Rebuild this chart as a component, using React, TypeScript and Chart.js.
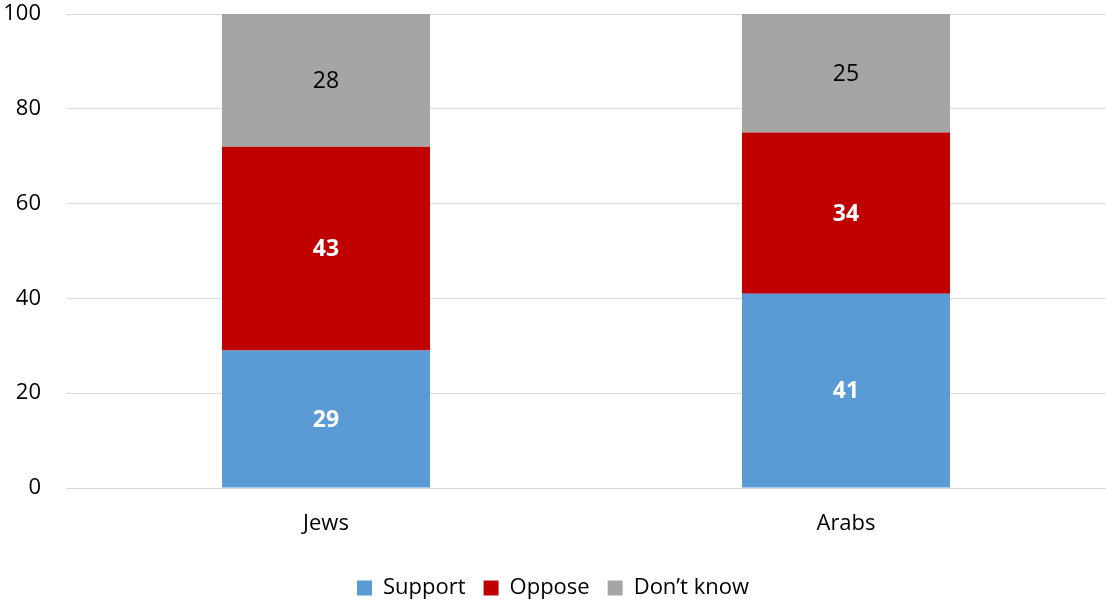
import React, { useEffect, useRef } from "react";
import { Chart, registerables } from "chart.js";

Chart.register(...registerables);

const categories = ["Jews", "Arabs"];
const supportValues = [29, 41];
const opposeValues = [43, 34];
const dontKnowValues = [28, 25];
const yTicks = [0, 20, 40, 60, 80, 100];

const FONT = "'Open Sans', sans-serif";

const labelPlugin = {
  id: "barLabels",
  afterDatasetsDraw(chart: any) {
    const ctx = chart.ctx;
    chart.data.datasets.forEach((ds: any, i: number) => {
      const meta = chart.getDatasetMeta(i);
      meta.data.forEach((bar: any, j: number) => {
        const v = ds.data[j];
        const y = (bar.y + bar.base) / 2;
        ctx.save();
        ctx.textAlign = "center";
        ctx.textBaseline = "middle";
        if (i < 2) {
          ctx.fillStyle = "#ffffff";
          ctx.font = `bold 23px ${FONT}`;
        } else {
          ctx.fillStyle = "#000000";
          ctx.font = `23px ${FONT}`;
        }
        ctx.fillText(String(v), bar.x, y + 1);
        ctx.restore();
      });
    });
  },
};

export default function App() {
  const ref = useRef<HTMLCanvasElement>(null);
  useEffect(() => {
    if (!ref.current) return;
    const chart = new Chart(ref.current, {
      type: "bar",
      data: {
        labels: categories,
        datasets: [
          { label: "Support", data: supportValues, backgroundColor: "#5B9BD5" },
          { label: "Oppose", data: opposeValues, backgroundColor: "#C00000" },
          { label: "Don\u2019t know", data: dontKnowValues, backgroundColor: "#A5A5A5" },
        ],
      },
      options: {
        animation: false,
        responsive: false,
        maintainAspectRatio: false,
        layout: { padding: { top: 14, right: 0, left: 0, bottom: -8 } },
        datasets: { bar: { categoryPercentage: 1, barPercentage: 0.4 } },
        scales: {
          x: {
            stacked: true,
            grid: { display: false },
            border: { display: true, color: "#d9d9d9", width: 1 },
            ticks: { color: "#000", font: { family: FONT, size: 22 }, padding: 15 },
            afterFit: (scale: any) => {
              scale.height = 71;
            },
          },
          y: {
            stacked: true,
            min: 0,
            max: 100,
            afterBuildTicks: (scale: any) => {
              scale.ticks = yTicks.map((v) => ({ value: v }));
            },
            afterFit: (scale: any) => {
              scale.width = 66;
              scale.paddingTop = 0;
              scale.paddingBottom = 0;
            },
            grid: { color: "#d9d9d9", lineWidth: 1, drawTicks: false },
            border: { display: false },
            ticks: { color: "#000", font: { family: FONT, size: 22 }, padding: 25 },
          },
        },
        plugins: {
          legend: {
            position: "bottom",
            labels: {
              color: "#000",
              font: { family: FONT, size: 22 },
              boxWidth: 15,
              boxHeight: 15,
              padding: 18,
            },
          },
          tooltip: { enabled: false },
        },
      },
      plugins: [labelPlugin],
    });
    return () => chart.destroy();
  }, []);
  return (
    <div style={{ position: "absolute", left: 0, top: 0, width: 1106, height: 601 }}>
      <canvas ref={ref} width={1106} height={601} />
    </div>
  );
}
